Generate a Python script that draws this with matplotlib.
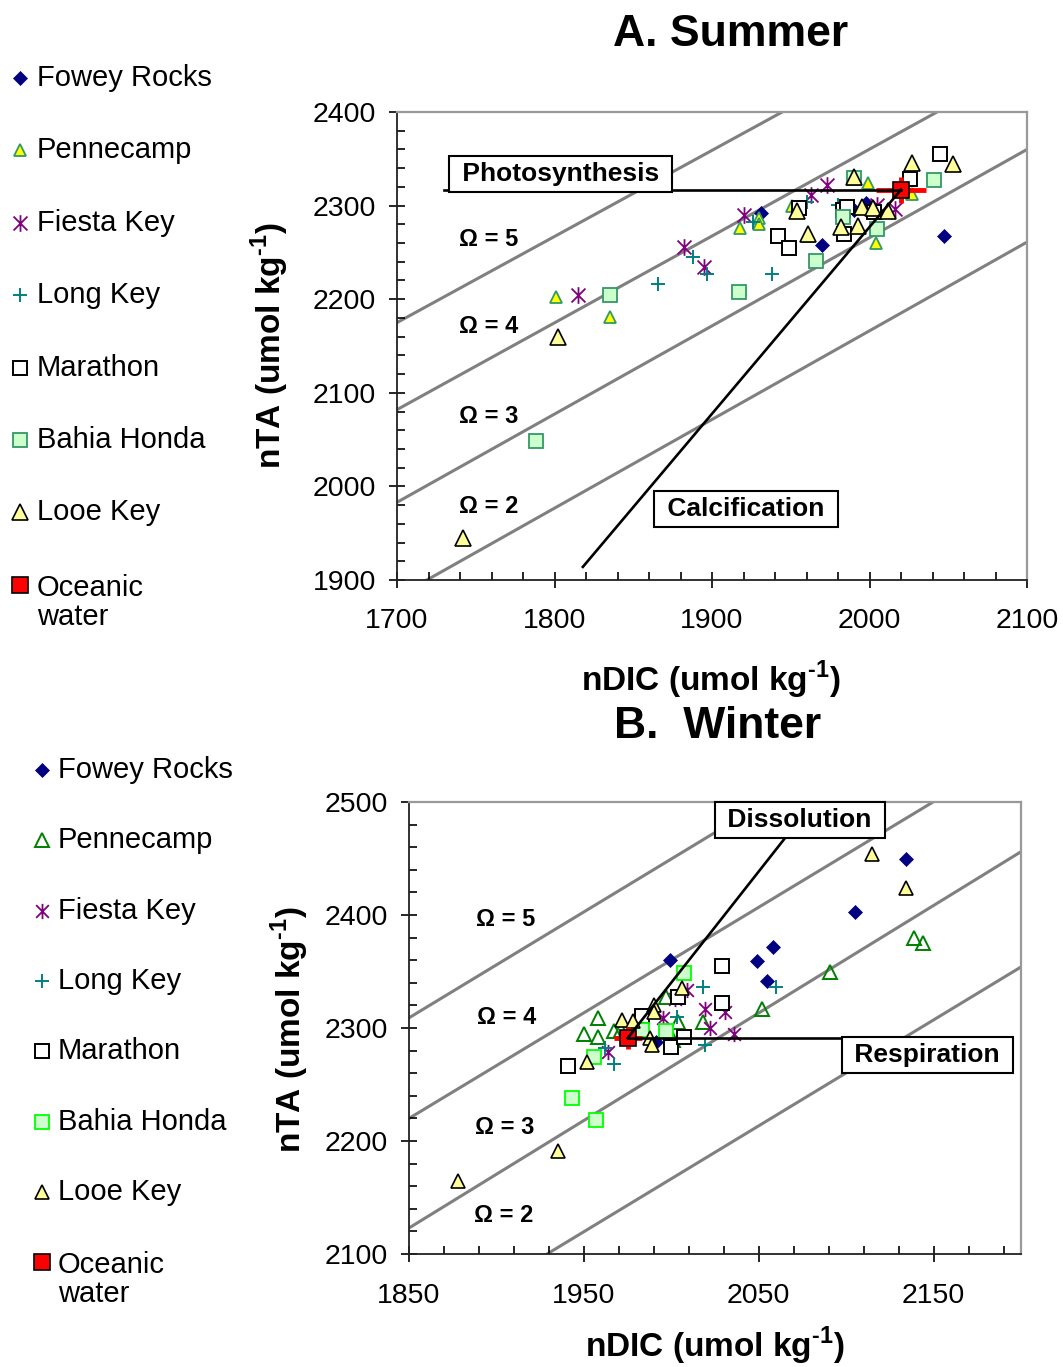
import matplotlib
matplotlib.use('Agg')
import matplotlib.pyplot as plt
from matplotlib.lines import Line2D
from matplotlib.path import Path
from matplotlib.ticker import MultipleLocator

plt.rcParams['font.family'] = ['Liberation Sans', 'DejaVu Sans']
plt.rcParams['mathtext.fontset'] = 'custom'
plt.rcParams['mathtext.rm'] = 'Liberation Sans'
plt.rcParams['mathtext.bf'] = 'Liberation Sans:bold'

# ---- data: summer (panel A) ----
sites = ['Fowey Rocks', 'Pennecamp', 'Fiesta Key', 'Long Key', 'Marathon',
         'Bahia Honda', 'Looe Key', 'Oceanic\nwater']

fowey_s_dic = [1931, 1970, 1990, 1998, 2047]
fowey_s_ta = [2292, 2258, 2295, 2303, 2267]
penne_s_dic = [1801, 1835, 1918, 1930, 1930, 1951, 1961, 1999, 2004, 2027]
penne_s_ta = [2202, 2181, 2276, 2287, 2280, 2300, 2268, 2324, 2260, 2312]
fiesta_s_dic = [1815, 1882, 1895, 1920, 1963, 1973, 2005, 2016]
fiesta_s_ta = [2204, 2256, 2234, 2290, 2311, 2322, 2301, 2296]
long_s_dic = [1866, 1888, 1897, 1926, 1938, 1960, 1980, 2002]
long_s_ta = [2216, 2245, 2227, 2282, 2227, 2304, 2301, 2293]
mara_s_dic = [1942, 1949, 1955, 1983, 1986, 1984, 2003, 2026, 2045]
mara_s_ta = [2268, 2255, 2297, 2295, 2299, 2270, 2293, 2328, 2355]
bahia_s_dic = [1788, 1835, 1917, 1966, 1983, 1990, 2005, 2041]
bahia_s_ta = [2048, 2204, 2208, 2241, 2288, 2330, 2275, 2327]
looe_s_dic = [1742, 1802, 1954, 1961, 1982, 1990, 1993, 1995, 2002, 2012, 2027, 2053]
looe_s_ta = [1945, 2160, 2294, 2270, 2277, 2331, 2278, 2299, 2297, 2294, 2345, 2344]
ocean_s_dic = [2020]
ocean_s_ta = [2317]
ocean_s_err = (16, 14)

# ---- data: winter (panel B) ----
fowey_w_dic = [1991, 1999, 2049, 2055, 2058, 2105, 2134]
fowey_w_ta = [2288, 2360, 2359, 2342, 2372, 2403, 2450]
penne_w_dic = [1950, 1958, 1958, 1967, 1971, 1997, 2001, 2004, 2018, 2052, 2091, 2139, 2144]
penne_w_ta = [2295, 2309, 2292, 2297, 2298, 2327, 2289, 2305, 2305, 2317, 2350, 2380, 2375]
fiesta_w_dic = [1964, 1995, 2002, 2009, 2019, 2022, 2031, 2036]
fiesta_w_ta = [2279, 2309, 2326, 2334, 2317, 2300, 2314, 2295]
long_w_dic = [1962, 1967, 2003, 2018, 2019, 2060]
long_w_ta = [2282, 2268, 2310, 2336, 2285, 2336]
mara_w_dic = [1941, 1983, 2000, 2004, 2007, 2029, 2029]
mara_w_ta = [2266, 2311, 2283, 2327, 2292, 2322, 2355]
bahia_w_dic = [1943, 1956, 1957, 1983, 1997, 2007]
bahia_w_ta = [2238, 2274, 2219, 2298, 2297, 2349]
looe_w_dic = [1878, 1935, 1952, 1972, 1978, 1988, 1989, 1990, 1990, 2006, 2115, 2134]
looe_w_ta = [2165, 2191, 2270, 2307, 2306, 2291, 2285, 2320, 2314, 2335, 2454, 2424]
ocean_w_dic = [1975]
ocean_w_ta = [2291]
ocean_w_err = (8, 10)

# aragonite saturation isolines (nTA at both ends of the nDIC range)
omega_levels = [5, 4, 3, 2]
omega_s_dic = [1700, 2100]
omega_s_ta0 = [2175, 2082, 1983, 1882]
omega_s_ta1 = [2543, 2453, 2360, 2261]
omega_w_dic = [1850, 2200]
omega_w_ta0 = [2309, 2220, 2123, 2026]
omega_w_ta1 = [2637, 2547, 2456, 2354]

# process vectors end points
photo_end = (1730, 2317)
calc_end = (1818, 1914)
diss_end = (2065, 2468)
resp_end = (2100, 2291)

# axis ticks
xticks_s = list(range(1700, 2101, 100))
xticks_w = list(range(1850, 2201, 100))

STAR = Path([(-1, -1), (1, 1), (-1, 1), (1, -1), (0, -1.2), (0, 1.2)],
            [Path.MOVETO, Path.LINETO, Path.MOVETO, Path.LINETO, Path.MOVETO, Path.LINETO])

style_s = [
    dict(marker='D', ms=7.5, mfc='#000080', mec='#000080', mew=0.5),
    dict(marker='^', ms=8.5, mfc='#FFFF00', mec='#339966', mew=1.3),
    dict(marker=STAR, ms=12, mfc='none', mec='#800080', mew=1.3),
    dict(marker='+', ms=10.5, mfc='none', mec='#008080', mew=1.4),
    dict(marker='s', ms=9.5, mfc='white', mec='black', mew=1.4),
    dict(marker='s', ms=9.5, mfc='#CCFFCC', mec='#339966', mew=1.3),
    dict(marker='^', ms=11, mfc='#FFFF99', mec='black', mew=1.2),
    dict(marker='s', ms=12, mfc='#FF0000', mec='black', mew=1.2),
]
style_w = [
    dict(marker='D', ms=7.5, mfc='#000080', mec='#000080', mew=0.5),
    dict(marker='^', ms=10, mfc='none', mec='#008000', mew=1.4),
    dict(marker=STAR, ms=11, mfc='none', mec='#800080', mew=1.3),
    dict(marker='+', ms=10, mfc='none', mec='#008080', mew=1.4),
    dict(marker='s', ms=9.5, mfc='white', mec='black', mew=1.4),
    dict(marker='s', ms=9.5, mfc='#CCFFCC', mec='#00FF00', mew=1.3),
    dict(marker='^', ms=10, mfc='#FFFF99', mec='black', mew=1.2),
    dict(marker='s', ms=12, mfc='#FF0000', mec='black', mew=1.2),
]

W, H = 1063, 1367
fig = plt.figure(figsize=(W / 100, H / 100), dpi=100)


def px_box(l, t, r, b):
    return [l / W, 1 - b / H, (r - l) / W, (b - t) / H]


def style_axes(ax, xlim, ylim, xticks, xpad, ypad):
    ax.set_xlim(*xlim)
    ax.set_ylim(*ylim)
    ax.set_xticks(xticks)
    ax.set_xticks(range(xlim[0], xlim[1] + 1, 20), minor=True)
    ax.yaxis.set_major_locator(MultipleLocator(100))
    ax.yaxis.set_minor_locator(MultipleLocator(20))
    ax.tick_params(which='major', direction='inout', length=12, width=1.2, labelsize=20.5)
    ax.tick_params(which='minor', direction='in', length=5.5, width=1.2)
    ax.tick_params(axis='x', which='major', pad=xpad)
    ax.tick_params(axis='y', which='major', pad=ypad)
    for s in ['top', 'right']:
        ax.spines[s].set_color('#999999')
        ax.spines[s].set_linewidth(1.6)
    for s in ['left', 'bottom']:
        ax.spines[s].set_color('#222222')
        ax.spines[s].set_linewidth(1.3)


def draw_panel(ax, series, styles, ocean, ocean_err, odic, ota0, ota1):
    for lev, t0, t1 in zip(omega_levels, ota0, ota1):
        ax.plot(odic, [t0, t1], color='#808080', lw=2.2, zorder=1)
    for i, (dic, ta) in enumerate(series):
        ax.plot(dic, ta, linestyle='none', zorder=3 + i, **styles[i])
    ax.errorbar(ocean[0], ocean[1], xerr=ocean_err[0], yerr=ocean_err[1], fmt='none',
                ecolor='red', elinewidth=3.5, capsize=0, zorder=10)
    ax.plot(ocean[0], ocean[1], linestyle='none', zorder=11, **styles[7])


box_kw = dict(ha='center', va='center', fontsize=19, fontweight='bold', zorder=20,
              bbox=dict(boxstyle='square,pad=0.22', fc='white', ec='black', lw=1.5))
omega_kw = dict(ha='center', va='center', fontsize=17, fontweight='bold', zorder=15)
unit_label = 'nDIC (umol kg$^{\\mathbf{\u20101}}$)'
ta_label = 'nTA (umol kg$^{\\mathbf{\u20101}}$)'

# ---- panel A: summer ----
ax_a = fig.add_axes(px_box(397, 112, 1027, 580))
style_axes(ax_a, (1700, 2100), (1900, 2400), xticks_s, 14, 9)
series_s = [(fowey_s_dic, fowey_s_ta), (penne_s_dic, penne_s_ta), (fiesta_s_dic, fiesta_s_ta),
            (long_s_dic, long_s_ta), (mara_s_dic, mara_s_ta), (bahia_s_dic, bahia_s_ta),
            (looe_s_dic, looe_s_ta)]
draw_panel(ax_a, series_s, style_s, (ocean_s_dic, ocean_s_ta), ocean_s_err,
           omega_s_dic, omega_s_ta0, omega_s_ta1)
ax_a.plot([photo_end[0], ocean_s_dic[0]], [photo_end[1], ocean_s_ta[0]], color='black', lw=1.9, zorder=14)
ax_a.plot([calc_end[0], ocean_s_dic[0]], [calc_end[1], ocean_s_ta[0]], color='black', lw=1.9, zorder=14)
ax_a.text(1804, 2334, ' Photosynthesis ', **box_kw)
ax_a.text(1921.5, 1976, ' Calcification ', **box_kw)
for lev, (ox, oy) in zip(omega_levels, [(1758, 2264), (1758, 2171), (1758, 2075), (1758, 1978)]):
    ax_a.text(ox, oy, f'Ω = {lev}', **omega_kw)
ax_a.set_xlabel(unit_label, fontsize=24, fontweight='bold')
ax_a.xaxis.set_label_coords(0.498, -0.214)
ax_a.xaxis.label.set_va('center')
ax_a.set_ylabel(ta_label, fontsize=24, fontweight='bold')
ax_a.yaxis.set_label_coords(-0.2016, 0.5)
ax_a.yaxis.label.set_va('center')
fig.text(731 / W, 1 - 35 / H, 'A. Summer', ha='center', va='center', fontsize=32, fontweight='bold')

# ---- panel B: winter ----
ax_b = fig.add_axes(px_box(409, 802, 1021, 1254))
style_axes(ax_b, (1850, 2200), (2100, 2500), xticks_w, 15, 9)
series_w = [(fowey_w_dic, fowey_w_ta), (penne_w_dic, penne_w_ta), (fiesta_w_dic, fiesta_w_ta),
            (long_w_dic, long_w_ta), (mara_w_dic, mara_w_ta), (bahia_w_dic, bahia_w_ta),
            (looe_w_dic, looe_w_ta)]
draw_panel(ax_b, series_w, style_w, (ocean_w_dic, ocean_w_ta), ocean_w_err,
           omega_w_dic, omega_w_ta0, omega_w_ta1)
ax_b.plot([ocean_w_dic[0], diss_end[0]], [ocean_w_ta[0], diss_end[1]], color='black', lw=1.9, zorder=14)
ax_b.plot([ocean_w_dic[0], resp_end[0]], [ocean_w_ta[0], resp_end[1]], color='black', lw=1.9, zorder=14)
ax_b.text(2073.5, 2484, ' Dissolution ', **box_kw)
ax_b.text(2146.5, 2276, ' Respiration ', **box_kw)
for lev, (ox, oy) in zip(omega_levels, [(1905, 2396), (1906, 2309), (1905, 2212), (1904, 2134)]):
    ax_b.text(ox, oy, f'Ω = {lev}', **omega_kw)
ax_b.set_xlabel(unit_label, fontsize=24, fontweight='bold')
ax_b.xaxis.set_label_coords(0.5, -0.204)
ax_b.xaxis.label.set_va('center')
ax_b.set_ylabel(ta_label, fontsize=24, fontweight='bold')
ax_b.yaxis.set_label_coords(-0.1944, 0.496)
ax_b.yaxis.label.set_va('center')
fig.text(718 / W, 1 - 727 / H, 'B.  Winter', ha='center', va='center', fontsize=32, fontweight='bold')


# ---- legends (drawn in figure pixels) ----
def draw_legend(top, step, mx, tx, styles):
    for i, (name, st) in enumerate(zip(sites, styles)):
        y = top + step * i
        fig.add_artist(Line2D([mx / W], [1 - y / H], transform=fig.transFigure,
                              linestyle='none', **st))
        if '\n' in name:
            fig.text(tx / W, 1 - (y - 11) / H, name, ha='left', va='top', fontsize=21,
                     linespacing=1.05)
        else:
            fig.text(tx / W, 1 - y / H, name, ha='left', va='center', fontsize=21)


draw_legend(78, 72.4, 20, 37, style_s)
draw_legend(770, 70.3, 42, 58, style_w)

fig.savefig('out.png', dpi=100)
